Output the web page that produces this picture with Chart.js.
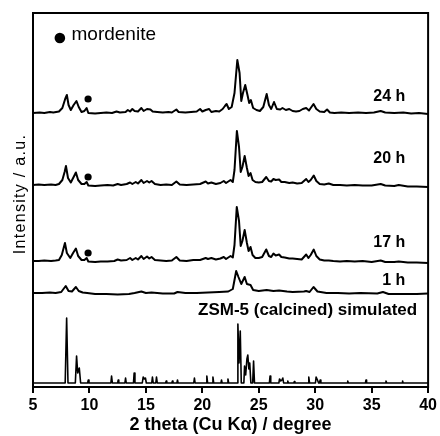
<!DOCTYPE html>
<html>
<head>
<meta charset="utf-8">
<script src="https://cdn.jsdelivr.net/npm/chart.js@4.4.1/dist/chart.umd.min.js"></script>
<style>
  html, body { margin: 0; padding: 0; background: #fff; }
  #wrap { width: 440px; height: 436px; }
</style>
</head>
<body>
<div id="wrap"><canvas id="xrdChart" width="440" height="436"></canvas></div>
<script>
// 2 theta (degree) and intensity above each baseline (a.u.)
const theta24 = [5.0, 5.6, 6.0, 6.5, 6.8, 7.3, 7.6, 7.85, 8.0, 8.15, 8.35, 8.6, 8.85, 9.05, 9.3, 9.55, 9.75, 9.9, 10.5, 11.0,
  11.5, 12.0, 12.4, 12.7, 13.2, 13.4, 13.6, 13.8, 14.0, 14.3, 14.6, 14.8, 15.1, 15.4, 15.6, 16.0, 16.5, 17.0, 17.3, 17.7,
  17.9, 18.5, 19.0, 19.5, 19.8, 20.0, 20.3, 20.6, 20.8, 21.2, 21.5, 21.8, 22.0, 22.15, 22.35, 22.6, 22.85, 23.1, 23.3, 23.45,
  23.6, 23.8, 24.0, 24.15, 24.3, 24.5, 24.8, 25.1, 25.4, 25.7, 25.9, 26.1, 26.35, 26.6, 26.9, 27.1, 27.4, 27.7, 28.0, 28.3,
  28.6, 28.9, 29.2, 29.45, 29.6, 29.85, 30.1, 30.4, 30.8, 31.05, 31.3, 31.7, 32.3, 33.0, 33.8, 34.5, 35.2, 35.8, 36.2, 37.0,
  37.8, 38.5, 39.2, 40.0];
const int24 = [0, 0.5, 0, 1, 0.5, 1.5, 5, 14, 18, 8, 3, 8, 12, 6, 1, 2, 5, 0, -0.5, 0,
  0.5, 0, 1.5, 0.5, 1, 3, 1.5, 4, 2, 1.5, 5, 2, 4, 3.5, 1.5, 1, 0.5, 1, 0.5, 3.5,
  1, 0.5, 1, 1.5, 4, 1.5, 3, 4, 1, 2, 1.5, 4, 7, 9, 4, 6, 20, 53, 40, 12,
  20, 28, 18, 10, 13, 5, 3, 2, 6, 19, 8, 4, 11, 4, 3.5, 5, 3, 4, 2, 1.5,
  2, 4, 5, 2.5, 5, 9, 4, 1.5, 1, 3.5, 0.5, 0, 0.5, 0, 0.5, 0, 0.5, 2, 0.5, 0,
  0.5, -0.5, 0, -1];

const theta20 = [5.0, 5.5, 6.0, 6.6, 7.0, 7.3, 7.6, 7.8, 7.92, 8.1, 8.35, 8.6, 8.8, 9.0, 9.3, 9.55, 9.75, 9.9, 10.5, 11.0,
  11.6, 12.1, 12.5, 12.8, 13.3, 13.6, 13.8, 14.1, 14.3, 14.6, 14.8, 15.1, 15.3, 15.5, 15.8, 16.3, 16.8, 17.3, 17.7, 18.0,
  18.6, 19.2, 19.8, 20.3, 20.5, 20.8, 21.2, 21.6, 21.9, 22.1, 22.5, 22.7, 22.85, 23.06, 23.25, 23.4, 23.55, 23.75, 23.95, 24.1,
  24.27, 24.45, 24.7, 25.0, 25.3, 25.66, 25.9, 26.1, 26.3, 26.5, 26.8, 27.0, 27.3, 27.7, 28.0, 28.4, 28.8, 29.2, 29.4, 29.6,
  29.87, 30.1, 30.4, 30.8, 31.2, 31.6, 32.2, 32.8, 33.5, 34.2, 35.0, 35.8, 36.2, 37.0, 37.4, 38.2, 39.0, 40.0];
const int20 = [0, 0.5, 0, 0.5, 0, 1, 5, 13, 19, 7, 2.5, 8, 12.5, 5, 1, 1, 3, -0.5, -1, -0.5,
  0, -0.5, 1, 0, 1, 2.5, 1, 3, 1.5, 5, 2, 4, 2.5, 4, 1, 0, 0.5, 0, 3.5, 0.5,
  0, 0.5, 1, 3.5, 1.5, 2.5, 1, 2, 4, 2, 5, 3, 15, 54, 38, 13, 18, 29, 17, 9,
  12, 5, 3, 2.5, 3, 8, 4, 3.5, 6, 5, 5.5, 3, 3, 2, 2.5, 1.5, 2, 6, 3, 5,
  9.5, 4, 1, 0.5, 1.5, 0, 0, -0.5, 0, -0.5, -0.5, 1, -0.5, -1, 0, -1.5, -1.5, -2];

const theta17 = [5.0, 5.5, 6.0, 6.6, 7.0, 7.3, 7.55, 7.83, 8.0, 8.3, 8.55, 8.8, 9.0, 9.3, 9.55, 9.75, 9.9, 10.5, 11.0, 11.6,
  12.2, 12.5, 12.8, 13.3, 13.6, 13.8, 14.1, 14.3, 14.6, 14.8, 15.1, 15.3, 15.5, 15.8, 16.3, 16.8, 17.3, 17.7, 18.0, 18.6,
  19.2, 19.8, 20.3, 20.5, 20.8, 21.2, 21.6, 21.9, 22.1, 22.5, 22.7, 22.85, 23.05, 23.25, 23.4, 23.55, 23.75, 23.95, 24.1, 24.27,
  24.45, 24.7, 25.0, 25.3, 25.66, 25.9, 26.1, 26.3, 26.5, 26.8, 27.0, 27.3, 27.7, 28.0, 28.4, 28.8, 29.2, 29.4, 29.6, 29.87,
  30.1, 30.4, 30.8, 31.2, 31.6, 32.2, 32.8, 33.5, 34.2, 35.0, 35.8, 36.2, 37.0, 37.4, 38.2, 39.0, 40.0];
const int17 = [0, 0, 0.5, 0, 0.5, 1, 6, 18, 8, 3, 8, 12.5, 5, 1, 1, 3, -0.5, -1, -0.5, -0.5,
  0, 1.5, 0.5, 1, 3, 1, 3, 1.5, 5, 2, 4.5, 2.5, 4, 1, 0.5, 0, 0.5, 4, 0.5, 0,
  1, 1, 3, 2, 3, 1.5, 2.5, 4, 2, 5, 3.5, 16, 54, 40, 15, 20, 31, 18, 10, 14,
  6, 3, 3, 4, 11.5, 5, 4, 7.5, 5.5, 6.5, 4, 3.5, 2.5, 2.5, 2, 1.5, 6.5, 3, 6, 11.5,
  5, 1.5, 0.5, 0.5, 0, -0.5, 0, -0.5, 0, -1, 0.5, -1, -1, -0.5, -1.5, -1.5, -2];

const theta1 = [5.0, 5.8, 6.5, 7.0, 7.5, 7.9, 8.15, 8.45, 8.8, 9.05, 9.4, 9.8, 10.5, 11.5, 12.5, 13.5, 14.0, 14.6, 15.0, 15.5,
  16.5, 17.5, 17.8, 18.5, 19.5, 20.5, 21.5, 22.3, 22.7, 23.0, 23.2, 23.45, 23.75, 23.95, 24.27, 24.5, 25.0, 25.7, 26.3, 26.8,
  27.5, 28.0, 29.0, 29.2, 29.5, 29.85, 30.2, 31.0, 32.0, 33.0, 34.0, 35.5, 36.0, 36.5, 38.0, 39.0, 40.0];
const int1 = [0, 0, 0.5, 0, 1, 7, 2, 1.5, 6, 2, 0.5, 0, -1, -1, -1.5, -1, 0, 1.5, 0, 0.5,
  -0.5, -0.5, 1, 0, 0, 0.5, 1, 1.5, 4, 22, 16, 9, 16, 9, 8, 3, 2, 3, 2, 2.5,
  1.5, 1, 1.5, 2, 1, 6, 1.5, 0, 0, -0.5, 0, -0.5, 1, -1, -1, -1, -0.5];

const thetaSim = [5.0, 7.85, 7.98, 8.1, 8.75, 8.86, 8.96, 9.1, 9.22, 9.84, 9.9, 9.96, 11.9, 11.96, 12.03, 12.5, 12.55, 12.6,
  13.14, 13.2, 13.26, 13.9, 13.96, 14.03, 14.68, 14.76, 14.86, 14.96, 15.04, 15.52, 15.58, 15.65, 15.88, 15.94, 16.01,
  16.75, 16.8, 16.85, 17.3, 17.35, 17.4, 17.75, 17.8, 17.85, 19.24, 19.3, 19.36, 20.34, 20.4, 20.47, 20.87, 20.94, 21.01,
  21.65, 21.7, 21.75, 22.2, 22.27, 22.33, 23.08, 23.15, 23.25, 23.36, 23.45, 23.68, 23.74, 23.84, 23.95, 24.03, 24.12, 24.2,
  24.3, 24.46, 24.54, 24.62, 25.94, 26.0, 26.06, 26.78, 26.84, 26.95, 27.05, 27.13, 27.2, 27.52, 27.57, 27.62, 28.1, 28.15,
  28.2, 29.37, 29.43, 29.5, 30.02, 30.08, 30.2, 30.3, 30.38, 30.44, 30.5, 32.83, 32.88, 32.93, 34.45, 34.5, 34.55, 36.2,
  36.27, 36.34, 37.7, 37.74, 37.78, 40.0];
const intSim = [0, 0, 65, 0, 0, 27, 10, 15, 0, 0, 3, 0, 0, 7, 0, 0, 3, 0,
  0, 5, 0, 0, 10, 0, 0, 6, 4, 5, 0, 0, 6, 0, 0, 6, 0,
  0, 2, 0, 0, 2, 0, 0, 3, 0, 0, 5, 0, 0, 7, 0, 0, 6, 0,
  0, 3, 0, 0, 4, 0, 0, 59, 20, 52, 0, 0, 17, 8, 24, 28, 14, 20,
  0, 0, 22, 0, 0, 7, 0, 0, 4, 2, 3, 5, 0, 0, 2, 0, 0, 1.5,
  0, 0, 6, 0, 0, 6, 3, 0, 0, 3, 0, 0, 2, 0, 0, 3, 0, 0,
  2, 0, 0, 2, 0, 0];

const traceLabels = ["24 h", "20 h", "17 h", "1 h", "ZSM-5 (calcined) simulated"];
const traceOffsets = [274, 202, 126, 94, 4];

// mordenite reflection markers
const mordeniteTheta = [9.88, 9.88, 9.88];
const mordeniteY = [288, 210, 134];

const traces = [
  [theta24, int24], [theta20, int20], [theta17, int17], [theta1, int1], [thetaSim, intSim]
];

function toPoints(xs, ys, off) {
  return xs.map((x, i) => ({ x: x, y: ys[i] + off }));
}

const datasets = traces.map((t, i) => ({
  label: traceLabels[i],
  data: toPoints(t[0], t[1], traceOffsets[i]),
  borderColor: "#000",
  borderWidth: i === 4 ? 1.6 : 2,
  borderJoinStyle: "round",
  pointRadius: 0,
  tension: 0,
  fill: false,
}));

datasets.push({
  type: "scatter",
  label: "mordenite",
  data: mordeniteTheta.map((x, i) => ({ x: x, y: mordeniteY[i] })),
  pointRadius: 3.6,
  pointBackgroundColor: "#000",
  pointBorderWidth: 0,
  showLine: false,
});

const FONT = "'Liberation Sans', Arial, sans-serif";

const annotate = {
  id: "annotate",
  afterDraw(chart) {
    const { ctx, chartArea: a, scales } = chart;
    const sx = scales.x, sy = scales.y;
    ctx.save();
    // frame
    ctx.strokeStyle = "#000";
    ctx.lineWidth = 2;
    ctx.strokeRect(a.left, a.top, a.right - a.left, a.bottom - a.top);

    ctx.fillStyle = "#000";
    ctx.textBaseline = "alphabetic";
    ctx.textAlign = "right";
    ctx.font = "bold 16px " + FONT;
    const spots = [[37.98, 286], [37.98, 224.5], [37.98, 140], [37.98, 102]];
    spots.forEach((p, i) => {
      ctx.fillText(traceLabels[i], sx.getPixelForValue(p[0]), sy.getPixelForValue(p[1]));
    });
    ctx.font = "bold 17px " + FONT;
    ctx.fillText(traceLabels[4], sx.getPixelForValue(39.03), sy.getPixelForValue(72));

    // legend for mordenite
    ctx.beginPath();
    ctx.arc(sx.getPixelForValue(7.38), sy.getPixelForValue(349), 5.3, 0, Math.PI * 2);
    ctx.fill();
    ctx.textAlign = "left";
    ctx.font = "19px " + FONT;
    ctx.fillText("mordenite", sx.getPixelForValue(8.41), sy.getPixelForValue(347));

    // y axis title
    ctx.translate(a.left - 12, (a.top + a.bottom) / 2 - 6);
    ctx.rotate(-Math.PI / 2);
    ctx.textAlign = "center";
    ctx.textBaseline = "middle";
    ctx.font = "16px " + FONT;
    ctx.letterSpacing = "1.3px";
    ctx.fillText("Intensity / a.u.", 0, 0);
    ctx.restore();
  }
};

document.addEventListener("DOMContentLoaded", function () {
  const ctx = document.getElementById("xrdChart").getContext("2d");
  Chart.defaults.font.family = FONT;
  Chart.defaults.color = "#000";
  new Chart(ctx, {
    type: "line",
    data: { datasets: datasets },
    options: {
      responsive: false,
      animation: false,
      layout: { padding: { top: 13, right: 10, bottom: 0, left: 0 } },
      plugins: { legend: { display: false }, tooltip: { enabled: false } },
      scales: {
        x: {
          type: "linear",
          min: 5,
          max: 40,
          afterFit: function (scale) { scale.height = 49; },
          ticks: { stepSize: 5, font: { size: 16, weight: "bold" }, padding: 3, maxRotation: 0 },
          grid: { drawOnChartArea: false, tickLength: 6, color: "#000", lineWidth: 2 },
          border: { display: true, color: "#000", width: 2 },
          title: {
            display: true,
            text: "2 theta (Cu Kα) / degree",
            font: { size: 18, weight: "bold" },
            padding: { top: 0, bottom: 0 },
          },
        },
        y: {
          min: 0,
          max: 374,
          afterFit: function (scale) { scale.width = 33; },
          ticks: { display: false },
          grid: { display: false },
          border: { display: false },
          title: { display: false },
        },
      },
    },
    plugins: [annotate],
  });
});
</script>
</body>
</html>
